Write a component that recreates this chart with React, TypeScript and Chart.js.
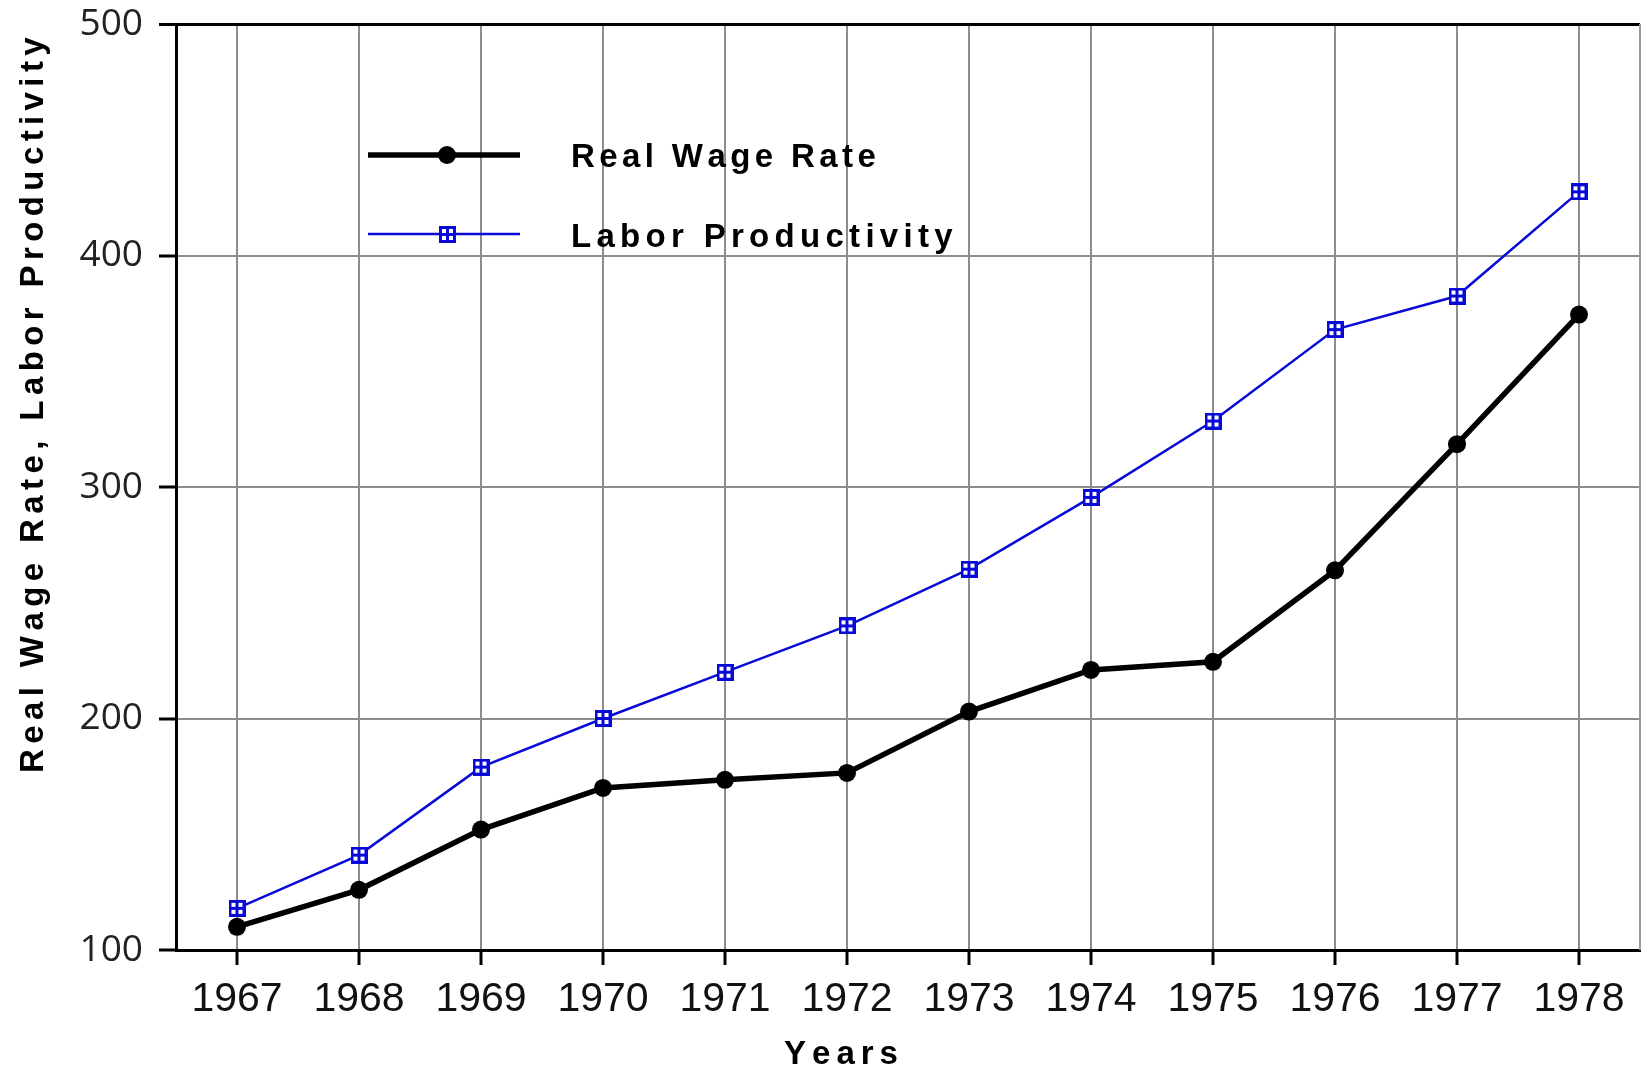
import React, { useEffect, useRef } from "react";
import { Chart, registerables } from "chart.js";

Chart.register(...registerables);

const years = ["1967", "1968", "1969", "1970", "1971", "1972", "1973", "1974", "1975", "1976", "1977", "1978"];
const realWageRate = [110, 126, 152, 170, 173.5, 176.5, 203, 221, 224.5, 264, 318.5, 374.5];
const laborProductivity = [118, 141, 179, 200, 220, 240, 264.5, 295.5, 328.5, 368, 382.5, 427.5];
const yMin = 100;
const yMax = 500;
const yStep = 100;
const xTitle = "Years";
const yTitle = "Real Wage Rate, Labor Productivity";

const BLUE = "#0a0ad8";
const GRID = "#8c8c8c";

function makeSquareMarker(): HTMLCanvasElement {
  const c = document.createElement("canvas");
  c.width = 17;
  c.height = 17;
  const g = c.getContext("2d")!;
  g.fillStyle = BLUE;
  g.fillRect(0, 0, 17, 17);
  g.fillStyle = "#ffffff";
  g.fillRect(3, 3, 4, 4);
  g.fillRect(10, 3, 4, 4);
  g.fillRect(3, 10, 4, 4);
  g.fillRect(10, 10, 4, 4);
  return c;
}

function spacedWidth(ctx: CanvasRenderingContext2D, text: string, sp: number) {
  let w = 0;
  for (const ch of text) w += ctx.measureText(ch).width;
  return w + sp * (text.length - 1);
}

function drawSpaced(ctx: CanvasRenderingContext2D, text: string, x: number, y: number, sp: number) {
  let cx = x;
  for (const ch of text) {
    ctx.fillText(ch, cx, y);
    cx += ctx.measureText(ch).width + sp;
  }
}

const BOLD = "bold 33px 'Liberation Sans', Arial, sans-serif";

const decorPlugin = {
  id: "decor",
  afterDraw(chart: any) {
    const ctx: CanvasRenderingContext2D = chart.ctx;
    const a = chart.chartArea;
    ctx.save();
    // right frame line
    ctx.strokeStyle = "#9a9a9a";
    ctx.lineWidth = 2;
    ctx.beginPath();
    ctx.moveTo(a.right, a.top);
    ctx.lineTo(a.right, a.bottom);
    ctx.stroke();

    ctx.fillStyle = "#000";
    ctx.font = BOLD;
    ctx.textBaseline = "alphabetic";

    // y title
    ctx.save();
    ctx.translate(43, 773);
    ctx.rotate(-Math.PI / 2);
    drawSpaced(ctx, yTitle, 0, 0, 5.4);
    ctx.restore();

    // x title
    const wx = spacedWidth(ctx, xTitle, 6);
    drawSpaced(ctx, xTitle, 841 - wx / 2, 1064, 6);

    // legend
    const ds = chart.data.datasets;
    const rows = [
      { y: 155, base: 167, sp: 4.4 },
      { y: 234, base: 247, sp: 5.3 },
    ];
    ds.forEach((d: any, i: number) => {
      const r = rows[i];
      ctx.strokeStyle = d.borderColor;
      ctx.lineWidth = d.borderWidth;
      ctx.beginPath();
      ctx.moveTo(368, r.y);
      ctx.lineTo(520, r.y);
      ctx.stroke();
      if (d.pointStyle && typeof d.pointStyle !== "string") {
        const img = d.pointStyle as HTMLCanvasElement;
        ctx.drawImage(img, Math.round(447 - img.width / 2), Math.round(r.y - img.height / 2));
      } else {
        ctx.fillStyle = d.pointBackgroundColor;
        ctx.beginPath();
        ctx.arc(447, r.y, d.pointRadius, 0, Math.PI * 2);
        ctx.fill();
      }
      ctx.fillStyle = "#000";
      drawSpaced(ctx, d.label, 571, r.base, r.sp);
    });
    ctx.restore();
  },
};

export default function App() {
  const ref = useRef<HTMLCanvasElement>(null);

  useEffect(() => {
    if (!ref.current) return;
    const marker = makeSquareMarker();
    const chart = new Chart(ref.current, {
      type: "line",
      data: {
        labels: years,
        datasets: [
          {
            label: "Real Wage Rate",
            data: realWageRate,
            borderColor: "#000000",
            backgroundColor: "#000000",
            borderWidth: 5.5,
            pointRadius: 9,
            pointBackgroundColor: "#000000",
            pointBorderColor: "#000000",
            pointBorderWidth: 0,
            pointStyle: "circle",
            tension: 0,
          },
          {
            label: "Labor Productivity",
            data: laborProductivity,
            borderColor: BLUE,
            backgroundColor: BLUE,
            borderWidth: 2.5,
            pointRadius: 8,
            pointStyle: marker as any,
            tension: 0,
          },
        ],
      },
      options: {
        responsive: false,
        animation: false,
        devicePixelRatio: 1,
        layout: { autoPadding: false, padding: { top: 24, right: 1, left: 0, bottom: 0 } },
        plugins: {
          legend: { display: false },
          tooltip: { enabled: false },
          title: { display: false },
        },
        scales: {
          x: {
            type: "category",
            offset: true,
            grid: {
              color: GRID,
              lineWidth: 2,
              tickColor: "#000",
              tickLength: 15,
              tickWidth: 3,
            },
            border: { color: "#000", width: 3 },
            ticks: {
              font: { family: "'Liberation Sans', Arial, sans-serif", size: 41 },
              color: "#111",
              padding: 10,
              maxRotation: 0,
              autoSkip: false,
            },
            afterFit: (s: any) => {
              s.height = 117;
              s.paddingLeft = 0;
              s.paddingRight = 0;
            },
          },
          y: {
            min: yMin,
            max: yMax,
            grid: {
              color: (c: any) => (c.tick && c.tick.value === yMax ? "#000" : GRID),
              lineWidth: (c: any) => (c.tick && c.tick.value === yMax ? 3 : 2),
              tickColor: "#000",
              tickLength: 17,
              tickWidth: 3,
            },
            border: { color: "#000", width: 3 },
            ticks: {
              stepSize: yStep,
              font: { family: "'Open Sans', sans-serif", size: 37 },
              color: "#222",
              padding: 16,
            },
            afterFit: (s: any) => {
              s.width = 176;
              s.paddingTop = 0;
              s.paddingBottom = 0;
            },
          },
        },
      },
      plugins: [decorPlugin],
    });
    return () => chart.destroy();
  }, []);

  return (
    <div style={{ position: "fixed", left: 0, top: 0, width: 1641, height: 1067, background: "#fff" }}>
      <canvas ref={ref} width={1641} height={1067} style={{ display: "block" }} />
    </div>
  );
}
